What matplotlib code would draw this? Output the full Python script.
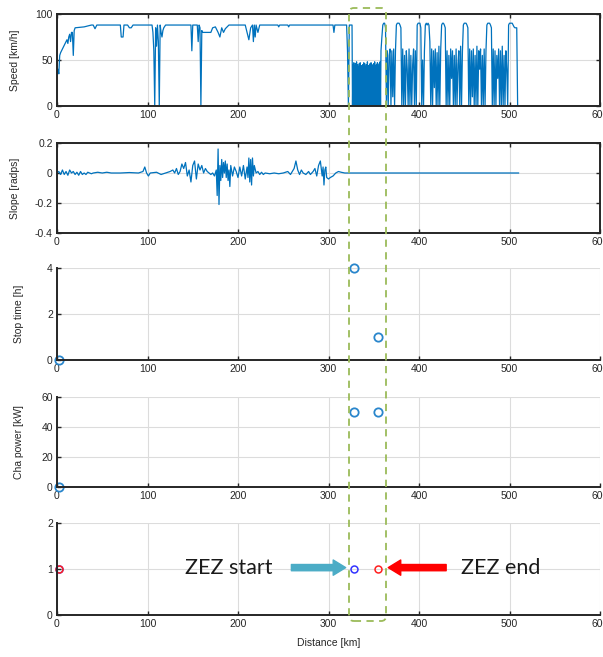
import numpy as np
import matplotlib
matplotlib.use("Agg")
import matplotlib.pyplot as plt
from matplotlib.patches import FancyBboxPatch

# ---------------- data ----------------
# Speed profile before the ZEZ (km, km/h)
speed_km_a = [0, 1, 2, 3, 4, 6, 8, 10, 11, 12, 13, 14, 15, 16, 17, 18, 19, 20, 30, 38, 40, 42, 44, 46,
              68, 70, 71, 73, 74, 78, 80, 82, 84, 105, 106, 107, 108, 109, 110, 111, 112, 113, 114,
              115, 116, 117, 118, 120, 148, 149, 150, 151, 155, 156, 157, 158, 159, 160, 161, 170,
              172, 175, 178, 180, 182, 184, 186, 188, 190, 200, 208, 210, 212, 214, 216, 217, 218,
              219, 220, 222, 224, 244, 245, 246, 255, 256, 257, 305, 306, 307, 320, 321, 322, 323,
              324, 326]
speed_kmh_a = [35, 40, 35, 55, 58, 62, 66, 70, 72, 68, 75, 78, 70, 80, 80, 55, 82, 85, 86, 88, 88, 84, 88, 88,
               88, 88, 75, 75, 88, 88, 85, 85, 88, 88, 80, 60, 0, 85, 65, 88, 70, 0, 88,
               80, 75, 82, 85, 88, 88, 60, 88, 88, 88, 70, 88, 85, 0, 82, 80, 80,
               85, 86, 80, 75, 85, 80, 84, 86, 88, 88, 88, 80, 72, 85, 88, 70, 88,
               75, 88, 80, 88, 88, 86, 88, 88, 86, 88, 88, 80, 88, 88, 60, 0, 88,
               88, 88]

# Speed inside the ZEZ, sampled every 0.5 km from 326.5 km
zez_start_km = 326.5
zez_step_km = 0.5
zez_speed = [0, 45, 0, 47, 0, 44, 0, 46, 0, 48, 0, 45, 0, 42, 0, 46, 0, 47, 0, 44,
             0, 40, 0, 45, 0, 47, 0, 46, 0, 43, 0, 45, 0, 48, 0, 44, 0, 42, 0, 46,
             0, 47, 0, 45, 0, 40, 0, 46, 0, 48, 0, 44, 0, 45, 0, 47, 0, 43, 0, 46,
             0, 48, 0, 50]

# Speed after the ZEZ, sampled every 1 km from 358 km
post_start_km = 358
post_speed = [60, 75, 88, 90, 90, 85, 0, 60, 0, 55, 62, 0, 60, 10, 62, 0, 60,
              88, 90, 90, 90, 88, 85, 0, 62, 0, 55, 0, 60, 40, 0, 62, 0, 55, 0, 45, 62, 0, 60, 0,
              88, 90, 90, 90, 85, 0, 50, 0, 60,
              88, 90, 88, 90, 88, 70, 0, 62, 0, 60, 20, 62, 0, 58, 0, 65, 0, 62,
              88, 90, 90, 88, 85, 0, 60, 0, 55, 0, 62, 30, 60, 0, 55, 0, 62, 0, 45, 60, 0, 65, 0, 60,
              88, 90, 90, 90, 88, 85, 0, 62, 0, 60, 10, 62, 0, 55, 0, 65, 0, 60, 40, 62, 0, 55, 0, 62, 0, 60,
              88, 90, 90, 90, 88, 85, 0, 62, 0, 60, 0, 55, 30, 62, 0, 60, 0, 65, 0, 55, 0, 60, 40, 0,
              88, 90, 90, 90, 90, 88, 86, 85, 85, 85, 0]

# Road slope (km, rad)
slope_km = [0, 2, 4, 6, 8, 10, 12, 14, 16, 18, 20, 22, 24, 26, 28, 30, 32, 34, 36, 38, 40, 45, 50, 55,
            60, 70, 80, 90, 95, 97, 99, 101, 103, 110, 115, 120, 125, 128, 130, 132, 134, 136, 138,
            140, 142, 144, 146, 148, 150, 152, 154, 156, 158, 160, 162, 164, 166, 168, 170, 172,
            174, 176, 177, 178, 179, 180, 181, 182, 183, 184, 185, 186, 187, 188, 189, 190, 191,
            192, 194, 196, 198, 200, 202, 204, 206, 208, 210, 211, 212, 213, 214, 215, 216, 217,
            218, 220, 222, 224, 226, 228, 230, 235, 240, 245, 250, 255, 258, 260, 262, 264, 266,
            268, 270, 272, 275, 278, 280, 283, 285, 287, 289, 291, 293, 294, 295, 296, 297, 298,
            300, 302, 305, 308, 311, 314, 318, 330, 510]
slope_rad = [0, 0.01, -0.01, 0.02, -0.01, 0.01, -0.015, 0.02, 0, 0.01, -0.01, 0.005, -0.015, 0.01, -0.01, 0.0,
             -0.01, 0.005, 0, -0.005, 0, 0.005, 0, 0.005,
             0, 0, 0.003, 0, 0.01, 0.04, 0, -0.02, 0, 0.005, -0.01, 0, 0.01, 0.02, 0, 0.03, -0.01, 0.01, 0.06,
             0.03, 0.07, -0.02, 0.02, -0.06, 0.05, 0.08, -0.04, 0.06, 0.02, 0.05, 0, 0.03, 0.01, 0, -0.01, 0,
             -0.02, 0.02, -0.15, 0.16, -0.21, 0.05, -0.05, 0.09, -0.03, 0.07, 0, 0.08, -0.03, 0.06, -0.05,
             0.02, -0.09,
             0.05, -0.02, 0.04, 0.01, -0.03, 0.04, -0.02, 0.05, -0.04, 0.04, -0.03, 0.1, -0.06, 0.09, -0.08,
             0.1, -0.02,
             0.05, 0, 0.01, -0.01, 0.005, -0.01, 0, -0.005, 0, -0.005, 0, 0.01, -0.01, 0.01, 0.03, 0.08, 0.02,
             -0.01, 0.02, 0, -0.01, 0.01, -0.01, 0.01, 0.03, -0.02, 0.05, 0.08, -0.02, 0.04, -0.08, 0.02,
             0.04, -0.03,
             -0.04, -0.03, -0.02, 0, 0.01, 0.005, 0, 0, 0]

# Stop events
stop_km = [2, 328, 355]
stop_time_h = [0, 4, 1]
charge_power_kw = [0, 50, 50]

# ZEZ flags
zez_start_flag_km = [2, 328]
zez_start_flag = [1, 1]
zez_end_flag_km = [2, 355]
zez_end_flag = [1, 1]

x_ticks = [0, 100, 200, 300, 400, 500, 600]

# ---------------- build speed series ----------------
zez_km = zez_start_km + zez_step_km * np.arange(len(zez_speed))
post_km = post_start_km + np.arange(len(post_speed))
speed_km = np.concatenate([speed_km_a, zez_km, post_km])
speed_kmh = np.concatenate([speed_kmh_a, zez_speed, post_speed])

# ---------------- style ----------------
plt.rcParams['font.family'] = ['Liberation Sans', 'DejaVu Sans']
blue = '#0072BD'
dark = '#262626'

fig = plt.figure(figsize=(6.03, 6.57), dpi=100)

W = 603.0
H = 657.0
left = 57 / W
width = 543 / W
rows = [(14, 106), (143, 233), (268, 360), (397, 487), (523, 615)]
axes = []
for top, bot in rows:
    ax = fig.add_axes([left, 1 - bot / H, width, (bot - top) / H])
    axes.append(ax)


def style(ax, box=True):
    ax.set_xlim(0, 600)
    ax.set_xticks(x_ticks)
    ax.grid(True, color='#dcdcdc', linewidth=0.8)
    ax.set_axisbelow(True)
    ax.tick_params(direction='in', length=3, width=1.0, labelsize=7.5, colors=dark,
                   top=box, right=box, pad=3)
    for s in ['left', 'bottom']:
        ax.spines[s].set_color(dark)
        ax.spines[s].set_linewidth(1.4)
    for s in ['top', 'right']:
        ax.spines[s].set_visible(box)
        ax.spines[s].set_color(dark)
        ax.spines[s].set_linewidth(1.4)


label_x = [(20 - 57) / 543, (20 - 57) / 543, (24 - 57) / 543, (24 - 57) / 543]

# Panel 1: speed
ax = axes[0]
ax.plot(speed_km, speed_kmh, color=blue, linewidth=0.9)
ax.set_ylim(0, 100)
ax.set_yticks([0, 50, 100])
style(ax)
ax.set_ylabel('Speed [km/h]', fontsize=7.5, color=dark)
ax.yaxis.set_label_coords(label_x[0], 0.5)

# Panel 2: slope
ax = axes[1]
ax.plot(slope_km, slope_rad, color=blue, linewidth=0.9)
ax.set_ylim(-0.4, 0.2)
ax.set_yticks([-0.4, -0.2, 0, 0.2])
ax.set_yticklabels(['-0.4', '-0.2', '0', '0.2'])
style(ax)
ax.set_ylabel('Slope [radps]', fontsize=7.5, color=dark)
ax.yaxis.set_label_coords(label_x[1], 0.5)

# Panel 3: stop time
ax = axes[2]
ax.plot(stop_km, stop_time_h, 'o', color='#2a86cc', markerfacecolor='none',
        markersize=6, markeredgewidth=1.3, clip_on=False)
ax.set_ylim(0, 4)
ax.set_yticks([0, 2, 4])
style(ax, box=False)
ax.set_ylabel('Stop time [h]', fontsize=7.5, color=dark)
ax.yaxis.set_label_coords(label_x[2], 0.5)

# Panel 4: charging power
ax = axes[3]
ax.plot(stop_km, charge_power_kw, 'o', color='#2a86cc', markerfacecolor='none',
        markersize=6, markeredgewidth=1.3, clip_on=False)
ax.set_ylim(0, 60)
ax.set_yticks([0, 20, 40, 60])
style(ax, box=False)
ax.set_ylabel('Cha power [kW]', fontsize=7.5, color=dark)
ax.yaxis.set_label_coords(label_x[3], 0.5)

# Panel 5: ZEZ flags
ax = axes[4]
ax.plot(zez_start_flag_km, zez_start_flag, 'o', color='#3333ff', markerfacecolor='none',
        markersize=5, markeredgewidth=1.1, clip_on=False)
ax.plot(zez_end_flag_km, zez_end_flag, 'o', color='#ff2020', markerfacecolor='none',
        markersize=5, markeredgewidth=1.1, clip_on=False)
ax.set_ylim(0, 2)
ax.set_yticks([0, 1, 2])
style(ax, box=False)
ax.set_xlabel('Distance [km]', fontsize=7.5, color=dark, labelpad=6)

ax.annotate('', xy=(319, 1.03), xytext=(259, 1.03),
            arrowprops=dict(arrowstyle='simple,head_width=1.1,head_length=0.9,tail_width=0.45',
                            color='#4BACC6', shrinkA=0, shrinkB=0))
ax.annotate('', xy=(366, 1.03), xytext=(430, 1.03),
            arrowprops=dict(arrowstyle='simple,head_width=1.1,head_length=0.9,tail_width=0.45',
                            color='#FF0000', shrinkA=0, shrinkB=0))
ax.text(190, 1.03, 'ZEZ start', fontsize=15.5, family=['Lato', 'DejaVu Sans'],
        ha='center', va='center', color='#1a1a1a')
ax.text(490, 1.03, 'ZEZ end', fontsize=15.5, family=['Lato', 'DejaVu Sans'],
        ha='center', va='center', color='#1a1a1a')

# Dashed ZEZ box spanning all panels (figure coordinates)
box = FancyBboxPatch((349 / W, 1 - 621 / H), 37 / W, 613 / H,
                     boxstyle='round,pad=0,rounding_size=0.008',
                     transform=fig.transFigure, fill=False, edgecolor='#9BBB59',
                     linestyle=(0, (4, 3)), linewidth=1.3, zorder=10)
fig.patches.append(box)

fig.savefig('out.png', dpi=100)
